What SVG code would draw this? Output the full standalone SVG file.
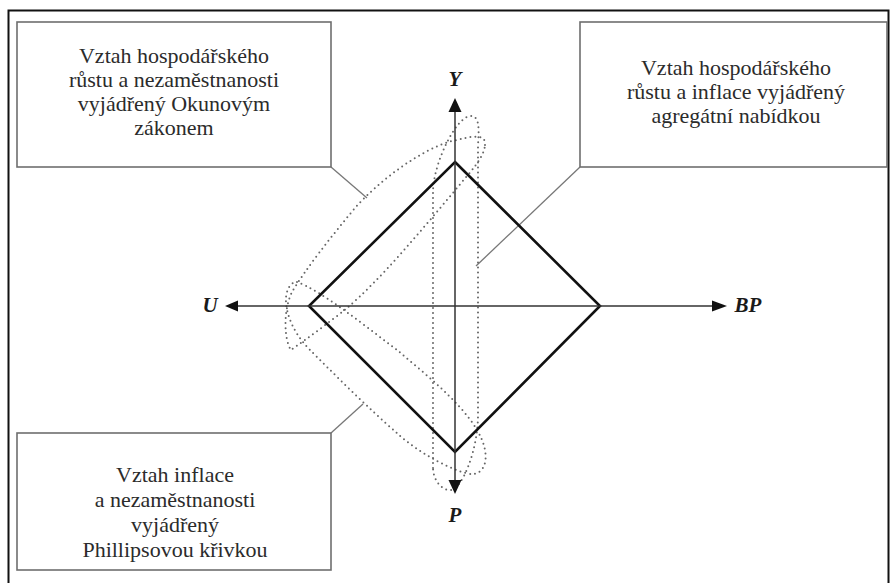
<svg xmlns="http://www.w3.org/2000/svg" width="890" height="583" viewBox="0 0 890 583">
<style>
.box{fill:#fff;stroke:#6e6e6e;stroke-width:1.6}
.txt{font-family:"Liberation Serif","Times New Roman",serif;font-size:22px;fill:#2b2b2b;text-anchor:middle}
.lbl{font-family:"Liberation Serif","Times New Roman",serif;font-size:21px;font-weight:bold;font-style:italic;fill:#1a1a1a;text-anchor:middle}
.axis{stroke:#333;stroke-width:1.5;fill:none}
.dot{fill:none;stroke:#666;stroke-width:2;stroke-dasharray:0 5;stroke-linecap:round}
.conn{stroke:#777;stroke-width:1.3;fill:none}
</style>
<rect x="0" y="0" width="890" height="583" fill="#fff"/>
<rect x="8.5" y="10.5" width="880" height="590" fill="none" stroke="#111" stroke-width="2"/>

<g id="connectors">
<line class="conn" x1="331" y1="167" x2="367" y2="198"/>
<line class="conn" x1="580" y1="167" x2="476" y2="266"/>
<line class="conn" x1="331" y1="433" x2="363" y2="404"/>
</g>

<g id="loops">
<path class="dot" d="M 433,468 L 433,192 C 433,165 455,118 470,116 C 480,115 479,130 478,145 L 478,415 C 478,450 462,490 450,490 C 440,490 433,478 433,468 Z"/>
<path class="dot" d="M 485,145 C 486,132 470,137 452,141 C 420,150 380,180 355,208 C 330,238 305,270 292,292 C 283,310 284,340 291,350 C 305,340 330,322 347,308 C 380,280 420,232 457,188 C 470,172 484,158 485,145 Z"/>
<path class="dot" d="M 297,282 C 320,290 360,322 397,350 C 430,378 470,410 482,440 C 490,460 484,474 472,474 C 460,474 420,455 397,433 C 370,410 330,370 310,350 C 290,330 283,305 287,292 C 289,285 293,282 297,282 Z"/>
</g>

<g id="diamond">
<polygon points="455,162 600,306 455,452 309,306" fill="none" stroke="#111" stroke-width="2.6" stroke-linejoin="miter"/>
</g>

<g id="axes">
<line class="axis" x1="237" y1="306" x2="712" y2="306"/>
<line class="axis" x1="455" y1="112" x2="455" y2="480"/>
<polygon points="225,306 238,300.5 238,311.5" fill="#111"/>
<polygon points="727,306 712,300.5 712,311.5" fill="#111"/>
<polygon points="455,98 448.5,112 461.5,112" fill="#111"/>
<polygon points="455,494 448.5,480 461.5,480" fill="#111"/>
<text class="lbl" x="455" y="86">Y</text>
<text class="lbl" x="455" y="522">P</text>
<text class="lbl" x="210" y="312">U</text>
<text class="lbl" x="748" y="312">BP</text>
</g>

<g id="okun">
<rect class="box" x="17" y="22" width="314" height="145"/>
<text class="txt" x="174" y="63">Vztah hospodářského</text>
<text class="txt" x="174" y="87">růstu a nezaměstnanosti</text>
<text class="txt" x="174" y="111">vyjádřený Okunovým</text>
<text class="txt" x="174" y="135">zákonem</text>
</g>

<g id="aggregate">
<rect class="box" x="580" y="22" width="307" height="145"/>
<text class="txt" x="736" y="75">Vztah hospodářského</text>
<text class="txt" x="736" y="99">růstu a inflace vyjádřený</text>
<text class="txt" x="736" y="123">agregátní nabídkou</text>
</g>

<g id="phillips">
<rect class="box" x="17" y="433" width="314" height="137"/>
<text class="txt" x="175" y="482">Vztah inflace</text>
<text class="txt" x="175" y="507">a nezaměstnanosti</text>
<text class="txt" x="175" y="532">vyjádřený</text>
<text class="txt" x="175" y="557">Phillipsovou křivkou</text>
</g>
</svg>
